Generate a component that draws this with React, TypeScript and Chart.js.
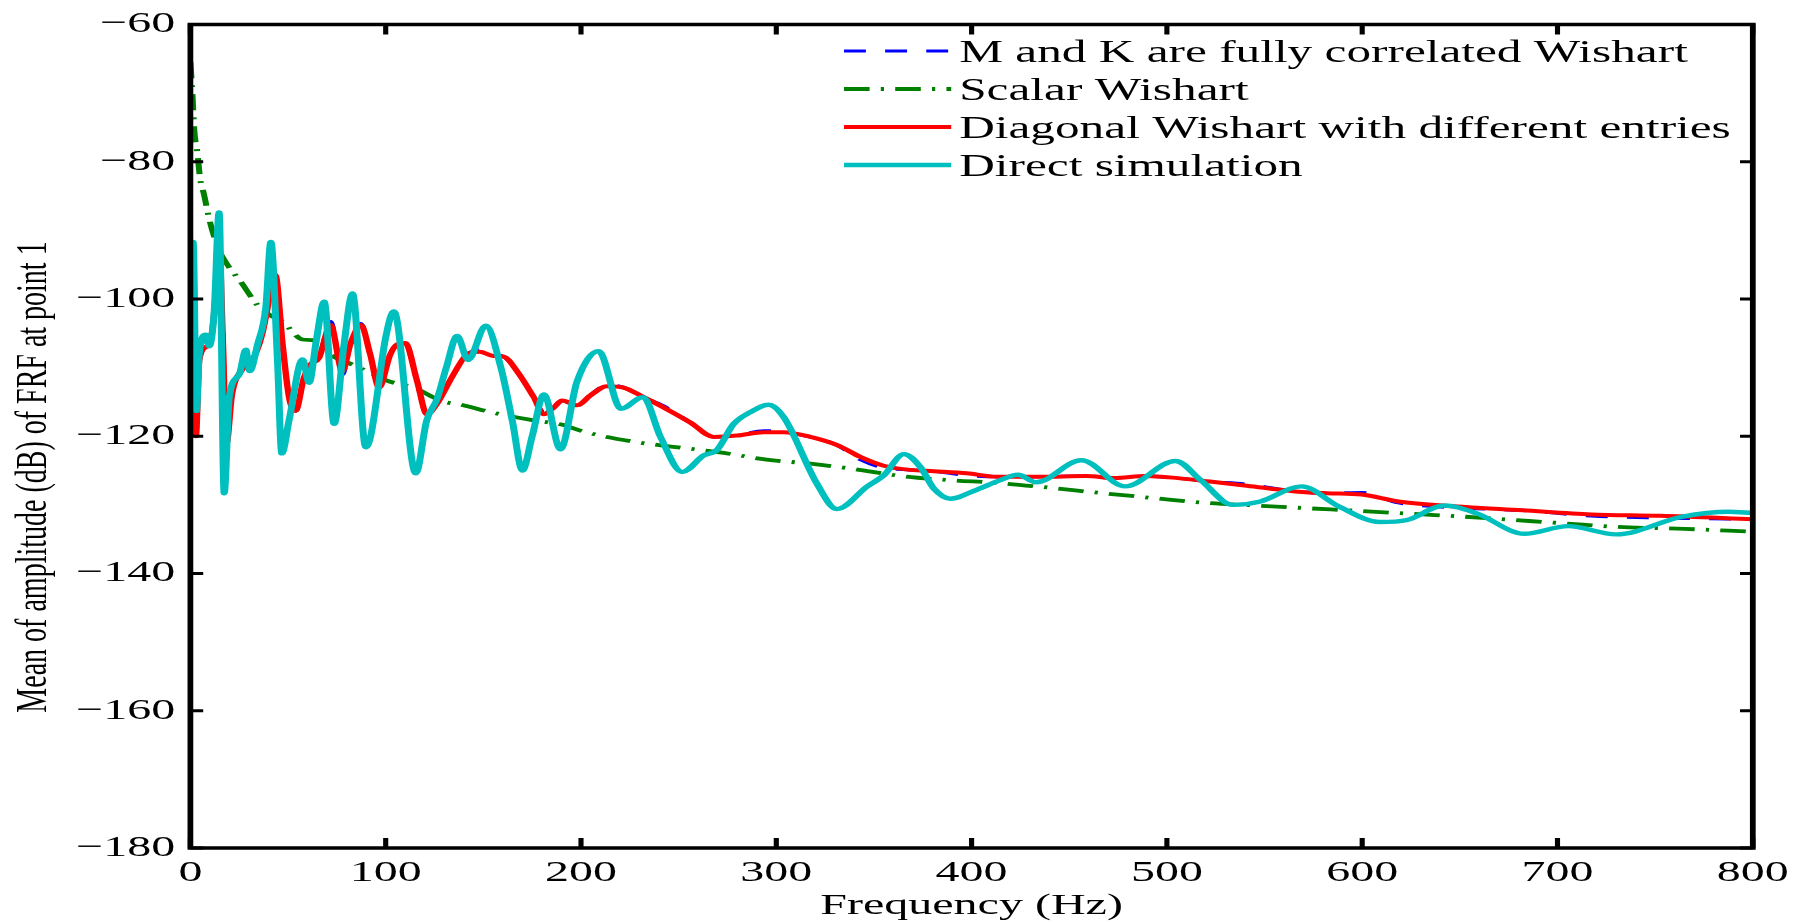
import React, { useEffect, useRef } from "react";
import { Chart, registerables } from "chart.js";

Chart.register(...registerables);

// ---------------- data ----------------
const xTickValues = [0, 100, 200, 300, 400, 500, 600, 700, 800];
const yTickValues = [-180, -160, -140, -120, -100, -80, -60];

const seriesLabels = [
  "M and K are fully correlated Wishart",
  "Scalar Wishart",
  "Diagonal Wishart with different entries",
  "Direct simulation",
];

const xTitle = "Frequency (Hz)";
const yTitle = "Mean of amplitude (dB) of FRF at point 1";

// Direct simulation (cyan)
const simFreq = [
  0, 1.4, 3.1, 4.5, 7.9, 9.6, 12.2, 14.7, 17.3, 19.9, 25, 28.4, 30.4, 34.4, 38.6, 41.2, 44.6, 46.8,
  50.5, 57.4, 60.8, 64.5, 68.5, 73.6, 78.5, 83, 89.8, 92.3, 100, 104.2, 115.4, 121, 126.4, 131,
  136.6, 142.2, 151.2, 159, 165, 170, 175, 181, 189.5, 198, 209, 220.5, 231.8, 240.7, 251.8,
  262.8, 269.6, 278.2, 286.7, 296.1, 303.8, 320.8, 331, 346.6, 355, 365.3, 373.8, 380.6, 389,
  402.6, 414.7, 423.7, 433, 456.2, 478.6, 504.4, 517.3, 533.8, 547.9, 569, 587.8, 609, 623,
  641.9, 658.3, 683, 705.4, 730, 764, 787.5, 800,
];
const simDb = [
  -103.5, -91.7, -116.3, -108.1, -105.2, -106.9, -101.8, -87.4, -128.3, -114.3, -111, -107.4,
  -110.5, -106.6, -101.3, -91.7, -109, -122.5, -117.7, -108.8, -112.2, -106, -100.4, -118.2,
  -107, -99.2, -121.6, -120, -105.6, -101.8, -125.4, -117.7, -114.5, -110, -105.4, -108.9,
  -103.9, -110, -118, -125, -120, -113.9, -121.9, -112, -107.6, -116, -114.3, -120.1, -125.2,
  -122.8, -122, -118.2, -116.5, -115.4, -117.2, -126.9, -130.6, -127.3, -125.7, -122.6, -124.5,
  -127.6, -129.1, -127.8, -126.4, -125.6, -126.7, -123.5, -127.3, -123.6, -126.4, -130, -129.5,
  -127.3, -130.2, -132.5, -132.2, -130.1, -131.2, -134.2, -133.1, -134.3, -131.7, -131, -131.2,
];

// Diagonal Wishart with different entries (red)
const diagFreq = [
  0, 1.4, 2.8, 4.5, 7.9, 10.4, 12.2, 14.7, 16.5, 18.5, 21.3, 26.4, 31.6, 36.7, 41.8, 43.5, 47.2,
  50.5, 53.9, 58.1, 61.6, 65.8, 71.8, 77.8, 82, 87.3, 92, 96.6, 102.3, 106, 110, 116, 121.1,
  126.2, 134.7, 141.6, 148, 155.2, 160.4, 167.2, 175.8, 180.9, 186.1, 190.3, 198, 205, 213.3,
  221.8, 232, 242.3, 256, 268, 280, 293.6, 303.8, 317.5, 331.2, 343, 355, 368.6, 380.6, 397.6,
  413, 435, 458.7, 472.7, 489.2, 505.6, 522, 540.9, 564.4, 582, 599.7, 618.5, 646.7, 682, 717.3,
  752.5, 800,
];
const diagDb = [
  -104, -93, -120, -109, -107, -106, -102, -92, -105, -121, -113.9, -110.3, -109, -105.2, -98,
  -96.5, -106.6, -114.3, -116.3, -111.5, -109.5, -108.6, -103.8, -110.5, -106.5, -103.8, -108,
  -112.9, -108.1, -106.6, -106.4, -111.9, -116.8, -115.3, -111, -108.1, -107.7, -108.3, -108.4,
  -110.5, -114.3, -116.8, -115.8, -114.8, -115.5, -114, -112.7, -112.9, -114.3, -115.8, -118,
  -120.1, -119.9, -119.4, -119.4, -120.1, -121.3, -123, -124.3, -124.9, -125.1, -125.4, -125.9,
  -125.9, -125.8, -126.1, -125.8, -126.1, -126.6, -127.2, -128, -128.3, -128.5, -129.5, -130.2,
  -130.8, -131.4, -131.6, -132.1,
];

// M and K are fully correlated Wishart (blue, dashed)
const fullFreq = [
  0, 1.4, 2.8, 4.5, 7.9, 10.4, 12.2, 14.7, 16.5, 18.5, 21.3, 26.4, 31.6, 36.7, 41.8, 43.5, 47.2,
  50.5, 53.9, 58.1, 61.6, 65.8, 71.8, 77.8, 82, 87.3, 92, 96.6, 102.3, 106, 110, 116, 121.1,
  126.2, 134.7, 141.6, 148, 155.2, 160.4, 167.2, 175.8, 180.9, 186.1, 190.3, 198, 205, 213.3,
  221.8, 232, 242.3, 256, 268, 280, 293.6, 303.8, 317.5, 331.2, 343, 355, 368.6, 380.6, 397.6,
  413, 435, 458.7, 472.7, 489.2, 505.6, 522, 540.9, 564.4, 582, 599.7, 618.5, 646.7, 682, 717.3,
  752.5, 800,
];
const fullDb = [
  -104, -93, -120, -109, -107, -106, -102, -92, -105, -121, -113.9, -110.3, -109, -105.2, -98,
  -96.5, -106.6, -114.3, -116.3, -111.5, -109.5, -108.6, -103.3, -111, -106.5, -103.6, -108,
  -112.9, -108.1, -106.6, -106.4, -111.9, -116.8, -115.3, -111, -108.1, -107.5, -108.1, -108.4,
  -110.5, -114.3, -116.5, -115.8, -114.8, -115.5, -114, -112.5, -112.9, -114.3, -115.6, -118,
  -120.1, -119.9, -119.2, -119.4, -120.1, -121.3, -123.4, -124.6, -124.9, -125.1, -125.7, -125.9,
  -125.9, -125.8, -126.1, -125.8, -126.1, -126.6, -127, -128, -128.3, -128.2, -129.7, -130.4,
  -130.8, -131.6, -131.9, -132.1,
];

// Scalar Wishart (green, dash-dot)
const scalarFreq = [
  0, 1, 2, 3.5, 5, 7, 9.6, 13.7, 18, 25.8, 34.4, 40.4, 47.2, 57.4, 62.5, 72.8, 85, 100.6, 114,
  130, 137, 154, 176, 190, 201, 227, 246, 270, 295, 317.5, 338, 364, 389, 413, 440, 467, 493, 520,
  546, 572.5, 600, 625, 651, 677.5, 704, 730, 765, 800,
];
const scalarDb = [
  -65.5, -70, -75.5, -78.5, -82.5, -84.8, -88.3, -92.2, -94.6, -97.5, -100.9, -102.3, -103.3,
  -105.9, -106, -108.3, -109.8, -111.9, -112.9, -115, -115.3, -116.5, -117.7, -118.3, -119.3,
  -120.8, -121.5, -122.3, -123.4, -124, -124.7, -125.8, -126.4, -126.8, -127.5, -128.3, -129,
  -129.7, -130.1, -130.5, -130.9, -131.3, -131.7, -132.2, -132.7, -133.2, -133.5, -133.9,
];

// ---------------- layout ----------------
const FONT = '"Liberation Serif", "Times New Roman", Times, serif';
const OUT_W = 1805;
const OUT_H = 924;
const SX = 1.6; // horizontal stretch of the original figure
const CW = Math.round(OUT_W / SX); // logical width
const PLOT_LEFT = 119;
const PLOT_RIGHT = 1095.5;
const PLOT_TOP = 17;
const PLOT_BOTTOM = 848;

const zip = (xs: number[], ys: number[]) => xs.map((x, i) => ({ x, y: ys[i] }));

const stretchPlugin = {
  id: "stretch",
  beforeDraw(chart: any) {
    chart.ctx.setTransform(SX, 0, 0, 1, 0, 0);
  },
};

const framePlugin = {
  id: "frame",
  afterDatasetsDraw(chart: any) {
    const { ctx, chartArea: a, scales } = chart;
    const xs = scales.x;
    const ys = scales.y;
    ctx.save();
    ctx.strokeStyle = "#000";
    ctx.setLineDash([]);
    ctx.lineWidth = 3.6;
    ctx.beginPath();
    ctx.rect(a.left, a.top, a.right - a.left, a.bottom - a.top);
    ctx.stroke();
    ctx.lineWidth = 3.2;
    ctx.beginPath();
    xTickValues.forEach((v) => {
      const px = xs.getPixelForValue(v);
      ctx.moveTo(px, a.bottom);
      ctx.lineTo(px, a.bottom - 10);
      ctx.moveTo(px, a.top);
      ctx.lineTo(px, a.top + 10);
    });
    yTickValues.forEach((v) => {
      const py = ys.getPixelForValue(v);
      ctx.moveTo(a.left, py);
      ctx.lineTo(a.left + 8, py);
      ctx.moveTo(a.right, py);
      ctx.lineTo(a.right - 8, py);
    });
    ctx.stroke();
    ctx.restore();
  },
  afterDraw(chart: any) {
    const { ctx } = chart;
    ctx.save();
    // y axis title
    ctx.fillStyle = "#000";
    ctx.font = `28px ${FONT}`;
    ctx.textAlign = "center";
    ctx.textBaseline = "middle";
    ctx.translate(21.6, 477);
    ctx.rotate(-Math.PI / 2);
    ctx.fillText(yTitle, 0, 0);
    ctx.restore();

    // legend
    ctx.save();
    const rowY0 = 51;
    const rowStep = 38;
    const x1 = 527.5;
    const x2 = 594.5;
    const tx = 599.5;
    chart.data.datasets.forEach((ds: any, i: number) => {
      const y = rowY0 + i * rowStep;
      ctx.beginPath();
      ctx.strokeStyle = ds.borderColor;
      ctx.lineWidth = ds.borderWidth;
      ctx.lineCap = "butt";
      ctx.setLineDash(ds.borderDash || []);
      ctx.moveTo(x1, y);
      ctx.lineTo(x2, y);
      ctx.stroke();
      ctx.setLineDash([]);
      ctx.fillStyle = "#000";
      ctx.font = `30.8px ${FONT}`;
      ctx.textAlign = "left";
      ctx.textBaseline = "alphabetic";
      ctx.fillText(ds.label, tx, y + 11);
    });
    ctx.restore();
  },
};

export default function App() {
  const ref = useRef<HTMLCanvasElement | null>(null);

  useEffect(() => {
    const canvas = ref.current;
    if (!canvas) return;
    canvas.width = CW;
    canvas.height = OUT_H;
    canvas.style.width = "";
    canvas.style.height = "";
    Chart.defaults.font.family = FONT;
    Chart.defaults.color = "#000";

    const chart = new Chart(canvas, {
      type: "line",
      data: {
        datasets: [
          {
            label: seriesLabels[0],
            data: zip(fullFreq, fullDb),
            borderColor: "#0000ff",
            borderWidth: 3.2,
            borderDash: [13.7, 12],
            pointRadius: 0,
            fill: false,
            cubicInterpolationMode: "monotone",
            order: 3,
          },
          {
            label: seriesLabels[1],
            data: zip(scalarFreq, scalarDb),
            borderColor: "#008000",
            borderWidth: 3.8,
            borderDash: [16, 7, 2, 7],
            pointRadius: 0,
            fill: false,
            cubicInterpolationMode: "monotone",
            order: 2,
          },
          {
            label: seriesLabels[2],
            data: zip(diagFreq, diagDb),
            borderColor: "#ff0000",
            borderWidth: 4,
            pointRadius: 0,
            fill: false,
            cubicInterpolationMode: "monotone",
            order: 1,
          },
          {
            label: seriesLabels[3],
            data: zip(simFreq, simDb),
            borderColor: "#00bfbf",
            borderWidth: 4.4,
            pointRadius: 0,
            fill: false,
            cubicInterpolationMode: "monotone",
            order: 0,
          },
        ],
      },
      options: {
        responsive: false,
        devicePixelRatio: 1,
        animation: false,
        events: [],
        layout: {
          padding: { left: 0, right: CW - PLOT_RIGHT, top: PLOT_TOP, bottom: 0 },
        },
        plugins: {
          legend: { display: false },
          tooltip: { enabled: false },
          title: { display: false },
        },
        scales: {
          x: {
            type: "linear",
            min: 0,
            max: 800,
            grid: { display: false, drawTicks: false },
            border: { display: false },
            afterBuildTicks: (s: any) => {
              s.ticks = xTickValues.map((v) => ({ value: v }));
            },
            afterFit: (s: any) => {
              s.height = OUT_H - PLOT_BOTTOM;
            },
            ticks: {
              color: "#000",
              font: { size: 30, family: FONT, lineHeight: 1.2 },
              padding: 7,
              maxRotation: 0,
              autoSkip: false,
              callback: (v: any) => String(v),
            },
            title: {
              display: true,
              text: xTitle,
              color: "#000",
              font: { size: 30, family: FONT, lineHeight: 1.2 },
              padding: { top: 0, bottom: 0 },
            },
          },
          y: {
            type: "linear",
            min: -180,
            max: -60,
            grid: { display: false, drawTicks: false },
            border: { display: false },
            afterBuildTicks: (s: any) => {
              s.ticks = yTickValues.map((v) => ({ value: v }));
            },
            afterFit: (s: any) => {
              s.width = PLOT_LEFT;
            },
            ticks: {
              color: "#000",
              font: { size: 30, family: FONT, lineHeight: 1.0 },
              padding: 9.5,
              autoSkip: false,
              callback: (v: any) => (Number(v) < 0 ? "\u2212" + Math.abs(Number(v)) : String(v)),
            },
          },
        },
      },
      plugins: [stretchPlugin, framePlugin],
    });

    // widen the physical canvas and redraw with the horizontal stretch
    canvas.width = OUT_W;
    canvas.height = OUT_H;
    canvas.style.width = OUT_W + "px";
    canvas.style.height = OUT_H + "px";
    chart.draw();

    return () => {
      chart.destroy();
    };
  }, []);

  return (
    <div
      style={{
        position: "absolute",
        left: 0,
        top: 0,
        width: OUT_W,
        height: OUT_H,
        background: "#fff",
        overflow: "hidden",
      }}
    >
      <canvas ref={ref} style={{ display: "block" }} />
    </div>
  );
}
